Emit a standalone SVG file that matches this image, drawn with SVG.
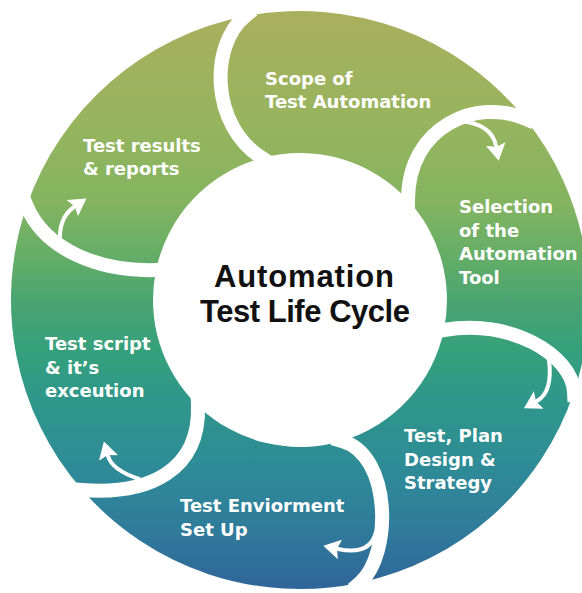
<svg xmlns="http://www.w3.org/2000/svg" width="582" height="593" viewBox="0 0 582 593">
  <defs>
    <!-- one vertical gradient shared by every ring segment -->
    <linearGradient id="ringFill" gradientUnits="userSpaceOnUse" x1="0" y1="10" x2="0" y2="590">
      <stop offset="0" stop-color="#a9af5d"/>
      <stop offset="0.19" stop-color="#98b45e"/>
      <stop offset="0.33" stop-color="#84b460"/>
      <stop offset="0.43" stop-color="#63ad68"/>
      <stop offset="0.50" stop-color="#4aa470"/>
      <stop offset="0.59" stop-color="#35a07c"/>
      <stop offset="0.67" stop-color="#2f978a"/>
      <stop offset="0.78" stop-color="#2e8c96"/>
      <stop offset="0.88" stop-color="#2f7e9b"/>
      <stop offset="1" stop-color="#2f6599"/>
    </linearGradient>
    <marker id="head" markerUnits="userSpaceOnUse" markerWidth="20" markerHeight="22" viewBox="0 -11 20 22" refX="2" refY="0" orient="auto">
      <path d="M0 -10 L17 0 L0 10 L3 0 Z" fill="#ffffff"/>
    </marker>
  </defs>
  <style>
    .seg { fill: url(#ringFill); }
    .gap { fill: none; stroke: #ffffff; stroke-width: 14; stroke-linecap: butt; }
    .lbl { font-family: "DejaVu Sans", "Liberation Sans", sans-serif; font-weight: bold; font-size: 18px; fill: #ffffff; }
    .title { font-family: "Liberation Sans", Arial, sans-serif; font-weight: 700; font-size: 31px; fill: #111111; text-anchor: middle; }
    .flow { fill: none; stroke: #ffffff; stroke-width: 4; stroke-linecap: round; marker-end: url(#head); }
  </style>

  <rect width="582" height="593" fill="#ffffff"/>

  <!-- ring segments, clockwise from the top -->
  <g id="scope">
    <path class="seg" d="M245 16.3 A289 289 0 0 1 525 118.6 C478 98 408 125 408 200.3 A147 147 0 0 0 262 158 C210 125 210 45 245 16.3 Z"/>
    <text class="lbl"><tspan x="265" y="85">Scope of</tspan><tspan x="265" y="108">Test Automation</tspan></text>
  </g>
  <g id="selection">
    <path class="seg" d="M525 118.6 A289 289 0 0 1 574 392 C572 355 510 318 443.9 330 A147 147 0 0 0 408 200.3 C408 125 478 98 525 118.6 Z"/>
    <text class="lbl"><tspan x="459" y="213">Selection</tspan><tspan x="459" y="237">of the</tspan><tspan x="459" y="260">Automation</tspan><tspan x="459" y="284">Tool</tspan></text>
  </g>
  <g id="plan">
    <path class="seg" d="M574 392 A289 289 0 0 1 360 582.7 C392 555 392 455 342 440.9 A147 147 0 0 0 443.9 330 C510 318 572 355 574 392 Z"/>
    <text class="lbl"><tspan x="404" y="442">Test, Plan</tspan><tspan x="404" y="466">Design &amp;</tspan><tspan x="404" y="489">Strategy</tspan></text>
  </g>
  <g id="environment">
    <path class="seg" d="M360 582.7 A289 289 0 0 1 82.2 490 C150 495 200 470 198 405.9 A147 147 0 0 0 342 440.9 C392 455 392 555 360 582.7 Z"/>
    <text class="lbl"><tspan x="180" y="512">Test Enviorment</tspan><tspan x="180" y="536">Set Up</tspan></text>
  </g>
  <g id="execution">
    <path class="seg" d="M82.2 490 A289 289 0 0 1 26.7 206 C45 250 100 272 156.1 270 A147 147 0 0 0 198 405.9 C200 470 150 495 82.2 490 Z"/>
    <text class="lbl"><tspan x="45" y="350">Test script</tspan><tspan x="45" y="374">&amp; it’s</tspan><tspan x="45" y="397">exceution</tspan></text>
  </g>
  <g id="results">
    <path class="seg" d="M26.7 206 A289 289 0 0 1 245 16.3 C210 45 210 125 262 158 A147 147 0 0 0 156.1 270 C100 272 45 250 26.7 206 Z"/>
    <text class="lbl"><tspan x="83" y="152">Test results</tspan><tspan x="83" y="175">&amp; reports</tspan></text>
  </g>

  <!-- white separators between neighbouring segments -->
  <g id="separators">
    <path class="gap" d="M252.7 10 L245 16.3 C210 45 210 125 262 158 L270.4 163.4"/>
    <path class="gap" d="M534.2 122.6 L525 118.6 C478 98 408 125 408 200.3 L408 210.3"/>
    <path class="gap" d="M574.5 402 L574 392 C572 355 510 318 443.9 330 L434.1 331.8"/>
    <path class="gap" d="M352.4 589.2 L360 582.7 C392 555 392 455 342 440.9 L332.4 438.2"/>
    <path class="gap" d="M72.2 489.3 L82.2 490 C150 495 200 470 198 405.9 L197.7 395.9"/>
    <path class="gap" d="M22.9 196.8 L26.7 206 C45 250 100 272 156.1 270 L166.1 269.6"/>
  </g>

  <!-- centre title -->
  <g id="hub">
    <text class="title" x="304" y="287" textLength="180">Automation</text>
    <text class="title" x="305" y="322" textLength="210">Test Life Cycle</text>
  </g>

  <!-- clockwise flow arrows -->
  <g id="connectors">
    <path class="flow" d="M460 121 Q492 124 496 146"/>
    <path class="flow" d="M549 360 Q553 392 537 401"/>
    <path class="flow" d="M376 532 Q370 556 338 549"/>
    <path class="flow" d="M139 479 Q112 470 108 456"/>
    <path class="flow" d="M60 244 Q58 218 74 207"/>
  </g>
</svg>
